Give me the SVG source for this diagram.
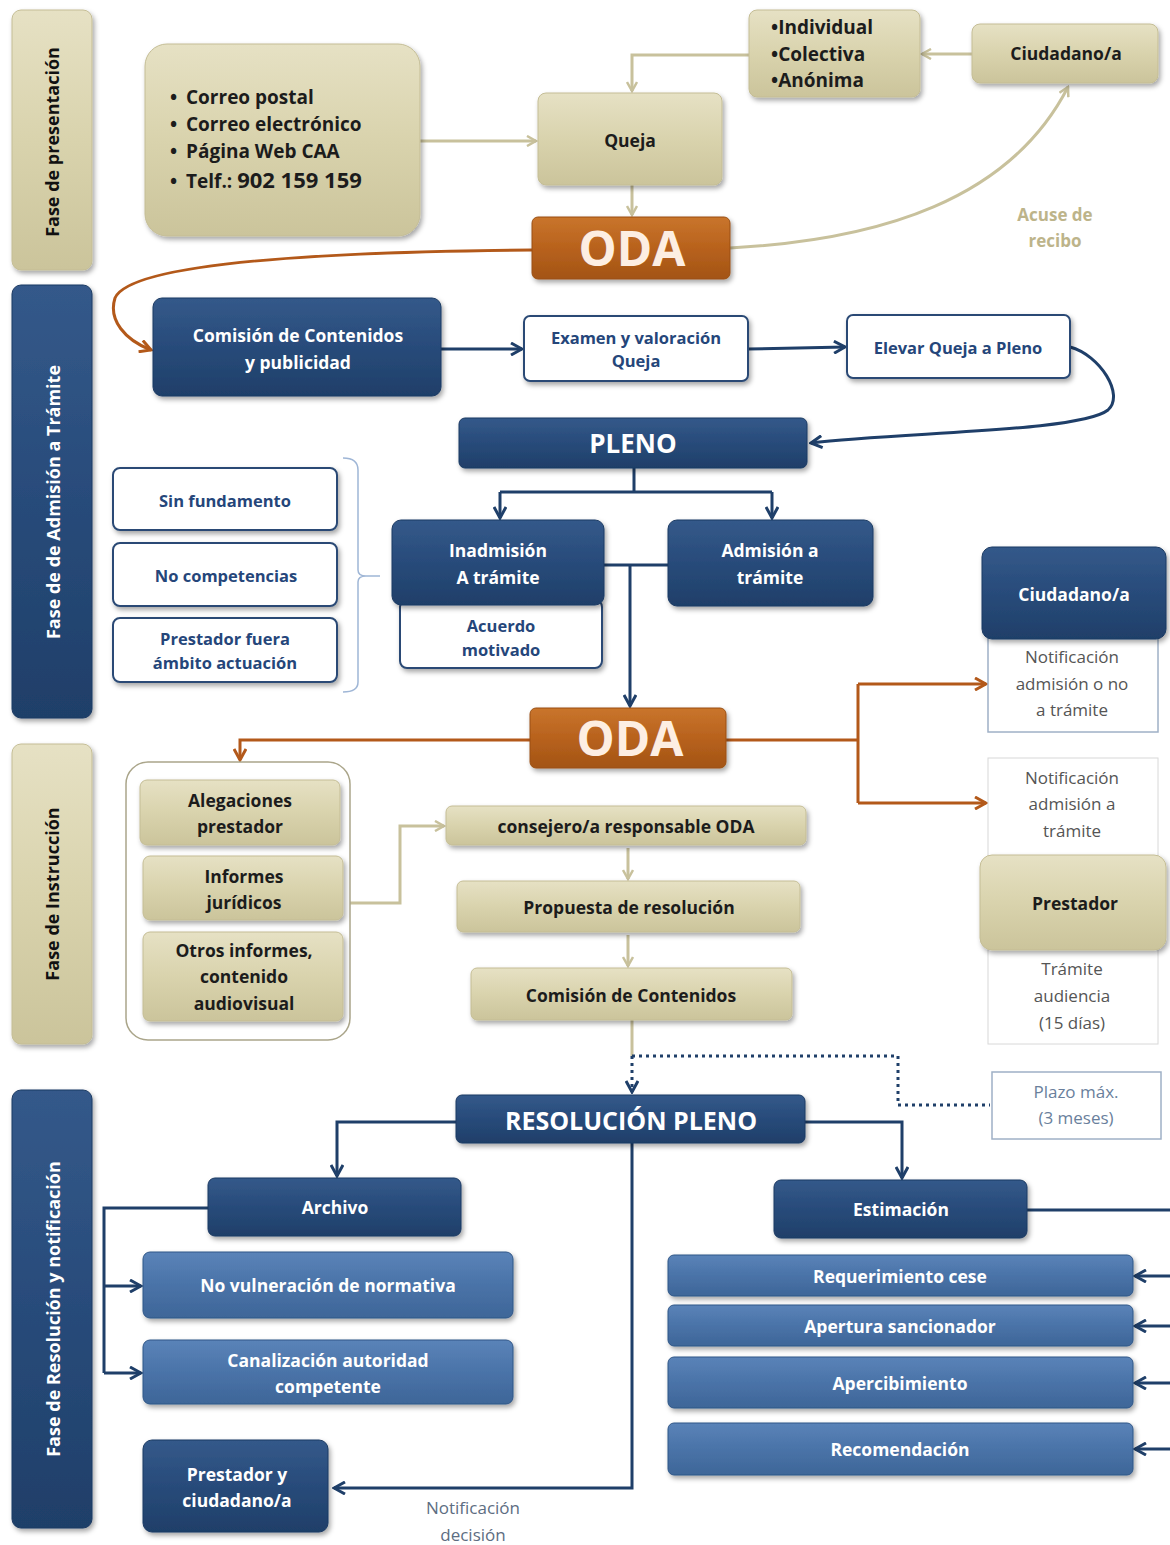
<svg xmlns="http://www.w3.org/2000/svg" width="1170" height="1545" viewBox="0 0 1170 1545">
<defs>
<linearGradient id="gTan" x1="0" y1="0" x2="0" y2="1"><stop offset="0" stop-color="#e6e1c4"/><stop offset="0.5" stop-color="#d9d3ad"/><stop offset="1" stop-color="#cbc49b"/></linearGradient>
<linearGradient id="gBlue" x1="0" y1="0" x2="0" y2="1"><stop offset="0" stop-color="#34598a"/><stop offset="0.5" stop-color="#284b7a"/><stop offset="1" stop-color="#1f3f69"/></linearGradient>
<linearGradient id="gMid" x1="0" y1="0" x2="0" y2="1"><stop offset="0" stop-color="#5a83b8"/><stop offset="0.5" stop-color="#4a73a8"/><stop offset="1" stop-color="#3e6698"/></linearGradient>
<linearGradient id="gOra" x1="0" y1="0" x2="0" y2="1"><stop offset="0" stop-color="#c9752c"/><stop offset="0.5" stop-color="#b8621d"/><stop offset="1" stop-color="#a35415"/></linearGradient>
<filter id="sh" x="-10%" y="-10%" width="125%" height="135%"><feDropShadow dx="2" dy="3" stdDeviation="2.5" flood-color="#000" flood-opacity="0.35"/></filter>
<marker id="aTan" viewBox="0 0 12 12" refX="10" refY="6" markerWidth="12" markerHeight="12" markerUnits="userSpaceOnUse" orient="auto"><path d="M1,1 L10,6 L1,11" fill="none" stroke="#c8c19c" stroke-width="2.5"/></marker>
<marker id="aBlue" viewBox="0 0 14 14" refX="12" refY="7" markerWidth="14" markerHeight="14" markerUnits="userSpaceOnUse" orient="auto"><path d="M1,1 L12,7 L1,13" fill="none" stroke="#1f3f69" stroke-width="3"/></marker>
<marker id="aOra" viewBox="0 0 14 14" refX="12" refY="7" markerWidth="14" markerHeight="14" markerUnits="userSpaceOnUse" orient="auto"><path d="M1,1 L12,7 L1,13" fill="none" stroke="#b3591a" stroke-width="3"/></marker>
</defs>
<style>
text{font-family:"Open Sans","Liberation Sans",sans-serif;font-weight:bold;text-anchor:middle}
.tan{fill:url(#gTan);stroke:#c4bd95;stroke-width:1;filter:url(#sh)}
.blue{fill:url(#gBlue);stroke:#1c3a62;stroke-width:1;filter:url(#sh)}
.mid{fill:url(#gMid);stroke:#2f5687;stroke-width:1;filter:url(#sh)}
.ora{fill:url(#gOra);stroke:#9a4f12;stroke-width:1;filter:url(#sh)}
.wb{fill:#fff;stroke:#2b4a75;stroke-width:2;filter:url(#sh)}
.wl{fill:#fff;stroke:#9fb0c6;stroke-width:1.5}
.wg{fill:#fff;stroke:#d8d8d8;stroke-width:1}
.tk{fill:#1c1c1c;font-size:17.5px}
.tl{fill:#1c1c1c;font-size:19px;text-anchor:start}
.tw{fill:#fff;font-size:17.5px}
.tb{fill:#25467a;font-size:16.5px}
.tg{fill:#555;font-size:17px;font-weight:normal}
.tn{fill:#5d6d82;font-size:17px;font-weight:normal}
.ph{font-size:18px}
.cTan{fill:none;stroke:#c8c19c;stroke-width:3;marker-end:url(#aTan)}
.cBlue{fill:none;stroke:#1f3f69;stroke-width:3}
.cOra{fill:none;stroke:#b3591a;stroke-width:3}
</style>

<g id="phases">
<g id="ph1"><rect class="tan" x="12" y="10" width="80" height="260" rx="9"/><text class="ph" fill="#111" transform="translate(59,142) rotate(-90)">Fase de presentación</text></g>
<g id="ph2"><rect class="blue" x="12" y="285" width="80" height="433" rx="9"/><text class="ph" fill="#fff" transform="translate(60,502) rotate(-90)">Fase de de Admisión a Trámite</text></g>
<g id="ph3"><rect class="tan" x="12" y="744" width="80" height="300" rx="9"/><text class="ph" fill="#111" transform="translate(59,894) rotate(-90)">Fase de Instrucción</text></g>
<g id="ph4"><rect class="blue" x="12" y="1090" width="80" height="438" rx="9"/><text class="ph" fill="#fff" transform="translate(60,1309) rotate(-90)">Fase de Resolución y notificación</text></g>
</g>

<g id="connectors">
<line class="cTan" x1="420" y1="141" x2="536" y2="141"/>
<path class="cTan" d="M749,55 H632 V91"/>
<line class="cTan" x1="972" y1="54" x2="922" y2="54"/>
<line class="cTan" x1="632" y1="185" x2="632" y2="215"/>
<path class="cTan" d="M730,248 C880,240 1010,200 1068,87"/>
<path class="cOra" marker-end="url(#aOra)" d="M532,250 C300,252 130,265 115,298 C108,320 125,340 151,350"/>
<line class="cBlue" marker-end="url(#aBlue)" x1="441" y1="349" x2="522" y2="349"/>
<line class="cBlue" marker-end="url(#aBlue)" x1="748" y1="349" x2="845" y2="347"/>
<path class="cBlue" marker-end="url(#aBlue)" d="M1070,347 C1100,355 1125,395 1108,410 C1080,432 900,432 811,443"/>
<path class="cBlue" d="M634,468 V492 M500,492 H772"/>
<line class="cBlue" marker-end="url(#aBlue)" x1="500" y1="492" x2="500" y2="518"/>
<line class="cBlue" marker-end="url(#aBlue)" x1="772" y1="492" x2="772" y2="518"/>
<path class="cBlue" d="M604,565 H668"/>
<line class="cBlue" marker-end="url(#aBlue)" x1="630" y1="565" x2="630" y2="706"/>
<path fill="none" stroke="#9fb6d6" stroke-width="1.5" d="M343,458 Q358,458 358,470 V570 Q358,576 366,576 Q358,576 358,582 V682 Q358,692 343,692 M366,576 H380"/>
<path class="cOra" d="M726,740 H858 M858,684 V803"/>
<line class="cOra" marker-end="url(#aOra)" x1="858" y1="684" x2="986" y2="684"/>
<line class="cOra" marker-end="url(#aOra)" x1="858" y1="803" x2="986" y2="803"/>
<path class="cOra" marker-end="url(#aOra)" d="M530,740 H240 V760"/>
<path class="cTan" d="M350,903 H400 V826 H444"/>
<line class="cTan" x1="628" y1="848" x2="628" y2="879"/>
<line class="cTan" x1="628" y1="935" x2="628" y2="966"/>
<line fill="none" stroke="#c8c19c" stroke-width="3" x1="632" y1="1020" x2="632" y2="1056"/>
<path fill="none" stroke="#1f3f69" stroke-width="3" stroke-dasharray="3,4" d="M632,1056 H898 V1105 H990"/>
<line class="cBlue" stroke-dasharray="3,4" marker-end="url(#aBlue)" x1="632" y1="1056" x2="632" y2="1092"/>
<path class="cBlue" marker-end="url(#aBlue)" d="M456,1122 H337 V1176"/>
<path class="cBlue" marker-end="url(#aBlue)" d="M805,1122 H902 V1178"/>
<path class="cBlue" d="M208,1208 H104 V1373"/>
<line class="cBlue" marker-end="url(#aBlue)" x1="104" y1="1286" x2="141" y2="1286"/>
<line class="cBlue" marker-end="url(#aBlue)" x1="104" y1="1373" x2="141" y2="1373"/>
<path class="cBlue" d="M1027,1210 H1172"/>
<line class="cBlue" marker-end="url(#aBlue)" x1="1172" y1="1276" x2="1135" y2="1276"/>
<line class="cBlue" marker-end="url(#aBlue)" x1="1172" y1="1326" x2="1135" y2="1326"/>
<line class="cBlue" marker-end="url(#aBlue)" x1="1172" y1="1383" x2="1135" y2="1383"/>
<line class="cBlue" marker-end="url(#aBlue)" x1="1172" y1="1449" x2="1135" y2="1449"/>
<path class="cBlue" marker-end="url(#aBlue)" d="M632,1143 V1488 H334"/>
</g>

<g id="labels">
<text fill="#bdb48a" font-size="17" x="1055" y="221">Acuse de</text>
<text fill="#bdb48a" font-size="17" x="1055" y="247">recibo</text>
<text class="tn" x="473" y="1514">Notificación</text>
<text class="tn" x="473" y="1541">decisión</text>
</g>

<g id="medios"><rect class="tan" x="145" y="44" width="275" height="192" rx="22"/>
<text class="tl" x="170" y="104">•</text><text class="tl" x="186" y="104">Correo postal</text>
<text class="tl" x="170" y="131">•</text><text class="tl" x="186" y="131">Correo electrónico</text>
<text class="tl" x="170" y="158">•</text><text class="tl" x="186" y="158">Página Web CAA</text>
<text class="tl" x="170" y="188">•</text><text class="tl" x="186" y="188">Telf.: <tspan style="font-size:22px">902 159 159</tspan></text></g>
<g id="queja"><rect class="tan" x="538" y="93" width="184" height="92" rx="8"/><text class="tk" x="630" y="147">Queja</text></g>
<g id="tipos"><rect class="tan" x="749" y="10" width="171" height="87" rx="8"/>
<text class="tl" x="771" y="34">•Individual</text>
<text class="tl" x="771" y="61">•Colectiva</text>
<text class="tl" x="771" y="87">•Anónima</text></g>
<g id="ciudadano1"><rect class="tan" x="972" y="24" width="186" height="59" rx="8"/><text class="tk" x="1066" y="60">Ciudadano/a</text></g>
<g id="oda1"><rect class="ora" x="532" y="217" width="198" height="62" rx="6"/><text fill="#fdeee2" font-size="48" x="632" y="266">ODA</text></g>

<g id="comision1"><rect class="blue" x="153" y="298" width="288" height="98" rx="9"/><text class="tw" x="298" y="342">Comisión de Contenidos</text><text class="tw" x="298" y="369">y publicidad</text></g>
<g id="examen"><rect class="wb" x="524" y="316" width="224" height="65" rx="6"/><text class="tb" x="636" y="344">Examen y valoración</text><text class="tb" x="636" y="367">Queja</text></g>
<g id="elevar"><rect class="wb" x="847" y="315" width="223" height="63" rx="6"/><text class="tb" x="958" y="354">Elevar Queja a Pleno</text></g>
<g id="pleno"><rect class="blue" x="459" y="418" width="348" height="50" rx="6"/><text fill="#fff" font-size="26" x="633" y="453">PLENO</text></g>
<g id="sinfund"><rect class="wb" x="113" y="468" width="224" height="62" rx="7"/><text class="tb" x="225" y="507">Sin fundamento</text></g>
<g id="nocomp"><rect class="wb" x="113" y="543" width="224" height="63" rx="7"/><text class="tb" x="226" y="582">No competencias</text></g>
<g id="fuera"><rect class="wb" x="113" y="618" width="224" height="64" rx="7"/><text class="tb" x="225" y="645">Prestador fuera</text><text class="tb" x="225" y="669">ámbito actuación</text></g>
<g id="acuerdo"><rect class="wb" x="400" y="600" width="202" height="68" rx="7"/><text class="tb" x="501" y="632">Acuerdo</text><text class="tb" x="501" y="656">motivado</text></g>
<g id="inadmision"><rect class="blue" x="392" y="520" width="212" height="85" rx="9"/><text class="tw" font-size="17" x="498" y="557">Inadmisión</text><text class="tw" font-size="17" x="498" y="584">A trámite</text></g>
<g id="admision"><rect class="blue" x="668" y="520" width="205" height="86" rx="9"/><text class="tw" font-size="17" x="770" y="557">Admisión a</text><text class="tw" font-size="17" x="770" y="584">trámite</text></g>

<g id="notif1"><rect class="wl" x="988" y="630" width="170" height="102"/><text class="tg" x="1072" y="663">Notificación</text><text class="tg" x="1072" y="690">admisión o no</text><text class="tg" x="1072" y="716">a trámite</text></g>
<g id="ciudadano2"><rect class="blue" x="982" y="547" width="184" height="92" rx="10"/><text class="tw" font-size="17" x="1074" y="601">Ciudadano/a</text></g>
<g id="oda2"><rect class="ora" x="530" y="708" width="196" height="60" rx="6"/><text fill="#fdeee2" font-size="48" x="630" y="756">ODA</text></g>
<g id="notif2"><rect class="wg" x="988" y="758" width="170" height="100"/><text class="tg" x="1072" y="784">Notificación</text><text class="tg" x="1072" y="810">admisión a</text><text class="tg" x="1072" y="837">trámite</text></g>
<g id="tramite"><rect class="wg" x="988" y="940" width="170" height="104"/><text class="tg" x="1072" y="975">Trámite</text><text class="tg" x="1072" y="1002">audiencia</text><text class="tg" x="1072" y="1029">(15 días)</text></g>
<g id="prestador"><rect class="tan" x="980" y="855" width="186" height="95" rx="12"/><text class="tk" x="1075" y="910">Prestador</text></g>
<g id="plazo"><rect class="wl" x="992" y="1072" width="169" height="67"/><text class="tn" style="fill:#6a7f9c" x="1076" y="1098">Plazo máx.</text><text class="tn" style="fill:#6a7f9c" x="1076" y="1124">(3 meses)</text></g>

<g id="grupo"><rect x="126" y="762" width="224" height="278" rx="22" fill="#fff" stroke="#aaa58a" stroke-width="1.5"/></g>
<g id="alegaciones"><rect class="tan" x="140" y="780" width="200" height="65" rx="7"/><text class="tk" x="240" y="807">Alegaciones</text><text class="tk" x="240" y="833">prestador</text></g>
<g id="informes"><rect class="tan" x="143" y="856" width="200" height="64" rx="7"/><text class="tk" x="244" y="883">Informes</text><text class="tk" x="244" y="909">jurídicos</text></g>
<g id="otros"><rect class="tan" x="143" y="932" width="200" height="89" rx="7"/><text class="tk" x="244" y="957">Otros informes,</text><text class="tk" x="244" y="983">contenido</text><text class="tk" x="244" y="1010">audiovisual</text></g>
<g id="consejero"><rect class="tan" x="446" y="806" width="360" height="39" rx="6"/><text class="tk" x="626" y="833">consejero/a responsable ODA</text></g>
<g id="propuesta"><rect class="tan" x="457" y="881" width="343" height="51" rx="6"/><text class="tk" x="629" y="914">Propuesta de resolución</text></g>
<g id="comision2"><rect class="tan" x="471" y="968" width="321" height="52" rx="6"/><text class="tk" x="631" y="1002">Comisión de Contenidos</text></g>

<g id="resolucion"><rect class="blue" x="456" y="1095" width="349" height="48" rx="6"/><text fill="#fff" font-size="25" x="631" y="1130">RESOLUCIÓN PLENO</text></g>
<g id="archivo"><rect class="blue" x="208" y="1178" width="253" height="58" rx="7"/><text class="tw" x="335" y="1214">Archivo</text></g>
<g id="estimacion"><rect class="blue" x="774" y="1180" width="253" height="58" rx="7"/><text class="tw" x="901" y="1216">Estimación</text></g>
<g id="novulneracion"><rect class="mid" x="143" y="1252" width="370" height="66" rx="7"/><text class="tw" x="328" y="1292">No vulneración de normativa</text></g>
<g id="canalizacion"><rect class="mid" x="143" y="1340" width="370" height="64" rx="7"/><text class="tw" x="328" y="1367">Canalización autoridad</text><text class="tw" x="328" y="1393">competente</text></g>
<g id="prestciud"><rect class="blue" x="143" y="1440" width="185" height="92" rx="9"/><text class="tw" x="237" y="1481">Prestador y</text><text class="tw" x="237" y="1507">ciudadano/a</text></g>
<g id="requerimiento"><rect class="mid" x="668" y="1255" width="465" height="41" rx="6"/><text class="tw" x="900" y="1283">Requerimiento cese</text></g>
<g id="apertura"><rect class="mid" x="668" y="1305" width="465" height="41" rx="6"/><text class="tw" x="900" y="1333">Apertura sancionador</text></g>
<g id="apercibimiento"><rect class="mid" x="668" y="1357" width="465" height="51" rx="6"/><text class="tw" x="900" y="1390">Apercibimiento</text></g>
<g id="recomendacion"><rect class="mid" x="668" y="1423" width="465" height="52" rx="6"/><text class="tw" x="900" y="1456">Recomendación</text></g>
</svg>
